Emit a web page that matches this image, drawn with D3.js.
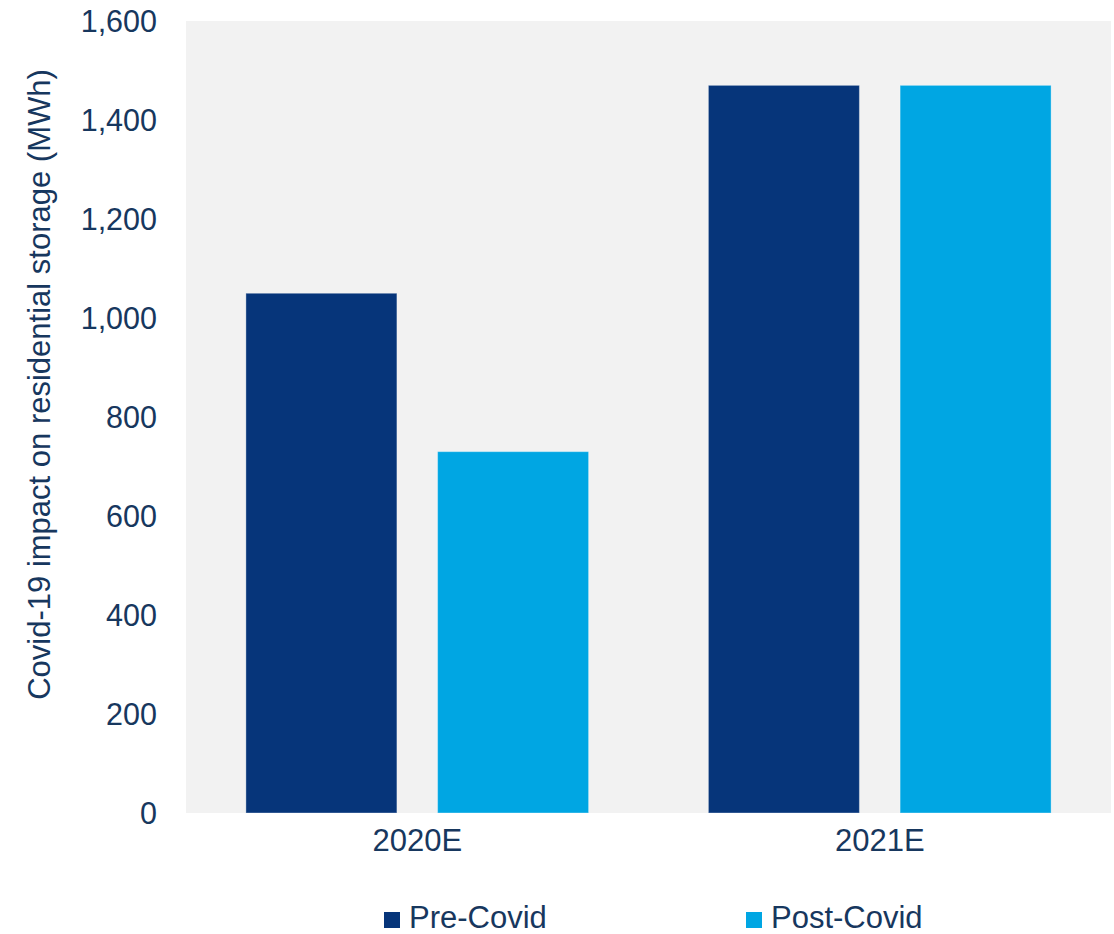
<!DOCTYPE html>
<html>
<head>
<meta charset="utf-8">
<script src="https://cdn.jsdelivr.net/npm/d3@7"></script>
<style>
  html, body { margin: 0; padding: 0; background: #ffffff; }
  svg text { font-family: "Liberation Sans", Arial, sans-serif; fill: #17375E; }
</style>
</head>
<body>
<svg id="chart" width="1114" height="934"></svg>
<script>
const categories = ["2020E", "2021E"];
const seriesNames = ["Pre-Covid", "Post-Covid"];
const preCovid = [1050, 1470];
const postCovid = [730, 1470];
const yTicks = [0, 200, 400, 600, 800, 1000, 1200, 1400, 1600];
const colors = ["#06357A", "#00A6E3"];

const svg = d3.select("#chart");
const plot = { left: 186, right: 1111, top: 21, bottom: 813 };

const x0 = d3.scaleBand().domain(categories).range([plot.left, plot.right]).paddingInner(0).paddingOuter(0);
const x1 = d3.scaleBand().domain(seriesNames).range([0, x0.bandwidth()]).paddingInner(0.2123).paddingOuter(0.3125);
const y = d3.scaleLinear().domain([0, 1600]).range([plot.bottom, plot.top]);

svg.append("rect")
  .attr("x", plot.left).attr("y", plot.top)
  .attr("width", plot.right - plot.left).attr("height", plot.bottom - plot.top)
  .attr("fill", "#F2F2F2");

const data = categories.map((c, i) => ({ cat: c, values: [preCovid[i], postCovid[i]] }));

const g = svg.append("g").selectAll("g").data(data).join("g")
  .attr("transform", d => `translate(${x0(d.cat)},0)`);
g.selectAll("rect").data(d => d.values.map((v, j) => ({ name: seriesNames[j], v, j })))
  .join("rect")
  .attr("x", d => x1(d.name))
  .attr("width", x1.bandwidth())
  .attr("y", d => y(d.v))
  .attr("height", d => y(0) - y(d.v))
  .attr("fill", d => colors[d.j])
  .attr("stroke", "rgba(255,255,255,0.35)")
  .attr("stroke-width", 1);

const FS = 31;

// y axis
const yAxis = d3.axisLeft(y).tickValues(yTicks).tickFormat(d3.format(",")).tickSize(0).tickPadding(0);
const ya = svg.append("g").attr("transform", `translate(157,0)`).call(yAxis);
ya.select(".domain").remove();
ya.selectAll("text").attr("font-size", 30.5).attr("dy", "0.35em")
  .style("font-family", '"Liberation Sans", Arial, sans-serif').attr("fill", "#17375E");

// x axis
const xAxis = d3.axisBottom(x0).tickSize(0).tickPadding(0);
const xa = svg.append("g").attr("transform", `translate(0,${plot.bottom})`).call(xAxis);
xa.select(".domain").remove();
xa.selectAll("text").attr("font-size", FS).attr("dy", 0).attr("y", 38)
  .style("font-family", '"Liberation Sans", Arial, sans-serif').attr("fill", "#17375E");

// axis title
svg.append("text")
  .attr("transform", `translate(50,384.5) rotate(-90)`)
  .attr("text-anchor", "middle")
  .attr("font-size", FS)
  .text("Covid-19 impact on residential storage (MWh)");

// legend
const legendX = [384, 746];
const lg = svg.append("g").selectAll("g").data(seriesNames).join("g")
  .attr("transform", (d, i) => `translate(${legendX[i]},912)`);
lg.append("rect").attr("width", 16).attr("height", 16).attr("fill", (d, i) => colors[i]);
lg.append("text").attr("x", 25).attr("y", 16).attr("font-size", FS).text(d => d);
</script>
</body>
</html>
